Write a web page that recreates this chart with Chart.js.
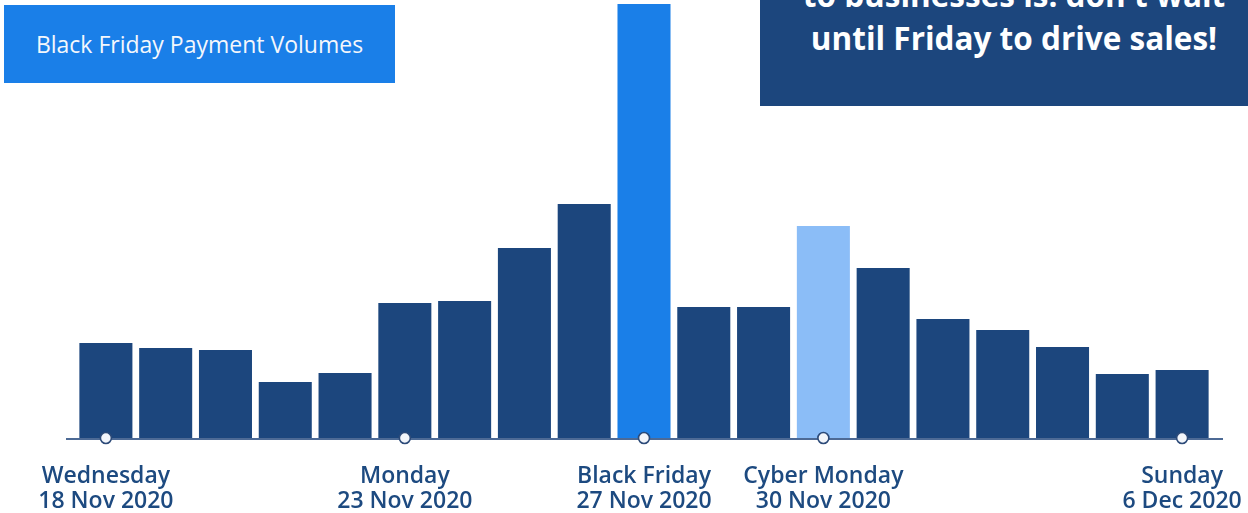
<!DOCTYPE html>
<html>
<head>
<meta charset="utf-8">
<script src="https://cdn.jsdelivr.net/npm/chart.js@4.4.0/dist/chart.umd.min.js"></script>
<style>
  html, body { margin: 0; padding: 0; background: #fff; }
  #wrap { position: relative; width: 1248px; height: 513px; overflow: hidden; font-family: "Open Sans", sans-serif; }
  #chart { position: absolute; left: 0; top: 0; }
  .title-box {
    position: absolute; left: 4px; top: 5px; width: 391px; height: 78px;
    background: #1a7fe8; color: #f4f7fc; font-size: 23px; font-weight: 500;
    display: flex; align-items: center; justify-content: center;
  }
  .note-box {
    position: absolute; left: 760px; top: 0; width: 488px; height: 106px;
    background: #1c467d; overflow: hidden;
  }
  .note-box div {
    position: absolute; left: 20px; right: 0; top: -27px; text-align: center;
    color: #fff; font-size: 31.5px; font-weight: 700; line-height: 43px;
    white-space: nowrap;
  }
</style>
</head>
<body>
<div id="wrap">
  <canvas id="chart" width="1248" height="513"></canvas>
  <div class="title-box">Black Friday Payment Volumes</div>
  <div class="note-box"><div>to businesses is: don't wait<br>until Friday to drive sales!</div></div>
</div>
<script>
// daily payment volume (relative units), 18 Nov - 6 Dec 2020
const days = ["18 Nov", "19 Nov", "20 Nov", "21 Nov", "22 Nov", "23 Nov", "24 Nov", "25 Nov", "26 Nov", "27 Nov",
  "28 Nov", "29 Nov", "30 Nov", "1 Dec", "2 Dec", "3 Dec", "4 Dec", "5 Dec", "6 Dec"]
const volumes = [95, 90, 88, 56, 65, 135, 137, 190, 234, 434, 131, 131, 212, 170, 119, 108, 91, 64, 68]
const tickLabels = {
  0: ["Wednesday", "18 Nov 2020"],
  5: ["Monday", "23 Nov 2020"],
  9: ["Black Friday", "27 Nov 2020"],
  12: ["Cyber Monday", "30 Nov 2020"],
  18: ["Sunday", "6 Dec 2020"],
}

const dark = "#1c467d"
const barColors = volumes.map((v, i) => (i === 9 ? "#1a7fe8" : i === 12 ? "#8bbdf7" : dark))
const markers = days.map((d, i) => (tickLabels[i] ? 0 : null))

// axis line a bit wider than the plot area
const baseLine = {
  id: "baseLine",
  beforeDatasetsDraw(chart) {
    const { ctx, chartArea } = chart
    ctx.save()
    ctx.strokeStyle = "#4d6a95"
    ctx.lineWidth = 2
    ctx.beginPath()
    ctx.moveTo(chartArea.left - 10, chartArea.bottom + 1)
    ctx.lineTo(chartArea.right + 11, chartArea.bottom + 1)
    ctx.stroke()
    ctx.restore()
  },
}

new Chart(document.getElementById("chart"), {
  data: {
    labels: days,
    datasets: [
      {
        type: "line",
        data: markers,
        showLine: false,
        pointRadius: 5.5,
        pointBackgroundColor: "#f3f6fb",
        pointBorderColor: "#2c4a78",
        pointBorderWidth: 1.6,
        clip: false,
        order: 0,
      },
      {
        type: "bar",
        data: volumes,
        backgroundColor: barColors,
        barPercentage: 0.887,
        categoryPercentage: 1,
        order: 1,
      },
    ],
  },
  options: {
    responsive: false,
    animation: false,
    layout: { autoPadding: false, padding: { left: 76, right: 36, top: 4, bottom: 0 } },
    plugins: { legend: { display: false }, tooltip: { enabled: false } },
    scales: {
      x: {
        grid: { display: false, drawTicks: false },
        border: { display: false },
        afterFit: (scale) => {
          scale.height = 75
          scale.paddingLeft = 0
          scale.paddingRight = 0
        },
        ticks: {
          autoSkip: false,
          maxRotation: 0,
          padding: 26.5,
          color: "#1d4a80",
          font: { family: "Open Sans", size: 23, weight: 600, lineHeight: 1.06 },
          callback: (val, i) => tickLabels[i] || "",
        },
      },
      y: { display: false, min: 0, max: 434 },
    },
  },
  plugins: [baseLine],
})
</script>
</body>
</html>
